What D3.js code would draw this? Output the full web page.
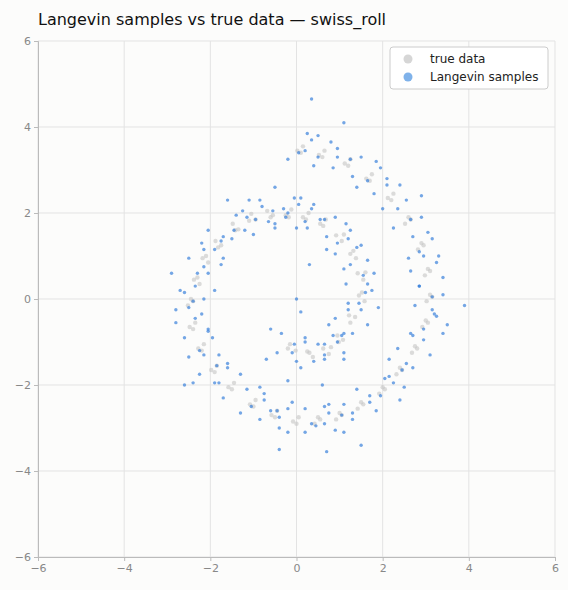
<!DOCTYPE html>
<html><head><meta charset="utf-8">
<script src="https://cdn.jsdelivr.net/npm/d3@7"></script>
<style>body{margin:0;background:#fcfcfb;font-family:"DejaVu Sans",sans-serif}</style>
</head><body><svg id="c" width="568" height="590"></svg>
<script>
const title = "Langevin samples vs true data \u2014 swiss_roll";
const ticks = [-6,-4,-2,0,2,4,6];
const seriesNames = ["true data","Langevin samples"];
const truePts = [[-0.15,-1.05],[-0.02,-1.2],[-0.2,-1.15],[0.25,-1.22],[0.38,-1.35],[0.3,-1.25],[0.62,-1.15],[0.75,-1.28],[0.8,-1.12],[0.95,-0.85],[1.08,-0.95],[0.98,-1.0],[1.25,-0.55],[1.36,-0.42],[1.22,-0.38],[1.45,0.08],[1.58,-0.05],[1.52,0.15],[1.55,0.45],[1.42,0.6],[1.6,0.62],[1.25,1.05],[1.38,0.95],[1.32,1.12],[1.05,1.35],[0.92,1.48],[1.1,1.5],[0.55,1.75],[0.68,1.85],[0.62,1.7],[0.15,1.9],[0.28,2.0],[0.22,1.85],[-0.25,1.95],[-0.12,2.08],[-0.18,1.9],[-0.55,1.95],[-0.68,2.05],[-0.6,1.9],[-0.95,1.85],[-1.05,1.98],[-1.1,1.82],[-1.35,1.62],[-1.48,1.75],[-1.42,1.6],[-1.75,1.25],[-1.88,1.35],[-1.82,1.2],[-2.05,0.85],[-2.18,0.95],[-2.1,1.0],[-2.25,0.35],[-2.38,0.45],[-2.3,0.5],[-2.4,-0.05],[-2.52,-0.15],[-2.45,0.0],[-2.35,-0.55],[-2.48,-0.65],[-2.4,-0.7],[-2.15,-1.05],[-2.28,-1.15],[-2.2,-1.2],[-1.85,-1.55],[-1.98,-1.65],[-1.9,-1.7],[-1.45,-1.95],[-1.58,-2.05],[-1.5,-2.1],[-0.95,-2.35],[-1.08,-2.45],[-1.0,-2.5],[-0.45,-2.6],[-0.58,-2.7],[-0.5,-2.75],[0.05,-2.75],[-0.08,-2.85],[0.0,-2.9],[0.55,-2.8],[0.42,-2.9],[0.5,-2.75],[1.05,-2.7],[0.92,-2.8],[1.0,-2.65],[1.55,-2.45],[1.42,-2.55],[1.5,-2.4],[2.05,-2.1],[1.92,-2.2],[2.0,-2.05],[2.45,-1.65],[2.32,-1.75],[2.4,-1.6],[2.8,-1.15],[2.68,-1.25],[2.75,-1.1],[3.05,-0.55],[2.92,-0.65],[3.0,-0.5],[3.15,0.05],[3.02,-0.05],[3.1,0.1],[3.1,0.65],[2.98,0.55],[3.05,0.7],[2.95,1.25],[2.82,1.15],[2.9,1.3],[2.65,1.85],[2.52,1.75],[2.6,1.9],[2.25,2.45],[2.12,2.35],[2.2,2.3],[1.75,2.9],[1.62,2.8],[1.7,2.75],[1.25,3.25],[1.12,3.15],[1.2,3.1],[0.65,3.45],[0.52,3.35],[0.6,3.3],[0.15,3.55],[0.02,3.45],[0.1,3.4]];
const langPts = [[0.2,-1.0],[-0.35,-0.8],[0.0,-1.45],[-0.45,-1.25],[-0.05,-1.05],[0.1,-1.6],[0.65,-1.4],[0.2,-0.9],[0.5,-1.05],[-0.1,-1.25],[0.85,-0.85],[0.4,-1.45],[1.1,-1.4],[0.65,-1.3],[0.95,-1.0],[1.3,-0.8],[0.75,-0.6],[1.1,-1.25],[0.65,-1.05],[1.05,-0.85],[1.1,-0.8],[1.65,-0.6],[1.2,-0.1],[1.5,-0.25],[0.9,-0.45],[1.65,0.35],[1.2,-0.25],[1.9,-0.2],[1.45,-0.1],[1.75,0.2],[1.8,0.6],[1.25,0.8],[1.6,0.15],[1.15,0.35],[1.55,0.55],[1.1,0.7],[1.65,0.9],[1.2,1.4],[1.5,1.25],[0.9,1.05],[1.15,1.75],[0.7,1.15],[1.4,1.2],[0.95,1.3],[1.25,1.6],[0.9,1.9],[0.35,2.1],[0.7,1.45],[0.25,1.65],[0.65,1.85],[0.0,1.65],[0.55,1.85],[0.1,2.35],[0.4,2.2],[-0.2,2.0],[-0.05,2.35],[-0.5,1.75],[0.2,1.8],[-0.25,1.9],[0.05,2.2],[-0.3,2.1],[-0.85,2.3],[-0.5,1.65],[-0.95,1.85],[-0.55,2.05],[-1.2,1.6],[-0.65,1.8],[-1.1,2.3],[-0.8,2.15],[-1.4,1.95],[-1.25,2.05],[-1.7,1.45],[-1.0,1.5],[-1.45,1.6],[-1.15,1.9],[-1.5,1.4],[-2.05,1.6],[-1.7,0.95],[-2.15,1.15],[-1.75,1.35],[-2.3,0.6],[-1.75,0.8],[-2.2,1.3],[-1.9,1.15],[-2.5,0.95],[-2.15,0.75],[-2.6,0.15],[-1.9,0.2],[-2.35,0.3],[-2.05,0.6],[-2.15,0.0],[-2.7,0.2],[-2.35,-0.45],[-2.8,-0.25],[-2.4,-0.05],[-2.6,-0.9],[-2.05,-0.7],[-2.5,-0.2],[-2.2,-0.35],[-2.8,-0.55],[-2.05,-0.75],[-2.5,-1.35],[-1.8,-1.3],[-2.25,-1.2],[-1.95,-0.9],[-1.6,-1.5],[-2.15,-1.3],[-1.8,-1.95],[-2.25,-1.75],[-1.85,-1.55],[-1.7,-2.3],[-1.15,-2.1],[-1.6,-1.6],[-1.3,-1.75],[-1.9,-1.95],[-0.85,-2.05],[-1.3,-2.65],[-0.6,-2.6],[-1.05,-2.5],[-0.75,-2.2],[-0.2,-2.55],[-0.75,-2.35],[-0.4,-3.0],[-0.85,-2.8],[-0.45,-2.6],[-0.2,-3.1],[0.35,-2.9],[-0.1,-2.4],[0.2,-2.55],[-0.4,-2.75],[0.65,-2.5],[0.2,-3.1],[0.9,-3.05],[0.45,-2.95],[0.75,-2.65],[1.3,-2.65],[0.75,-2.45],[1.1,-3.1],[0.65,-2.9],[1.05,-2.7],[1.3,-2.8],[1.85,-2.6],[1.4,-2.1],[1.7,-2.25],[1.1,-2.45],[2.15,-1.8],[1.7,-2.4],[2.4,-2.35],[1.95,-2.25],[2.25,-1.95],[2.7,-1.6],[2.15,-1.4],[2.5,-2.05],[2.05,-1.85],[2.45,-1.65],[2.55,-1.5],[3.1,-1.3],[2.65,-0.8],[2.95,-0.95],[2.35,-1.15],[3.15,-0.25],[2.7,-0.85],[3.4,-0.8],[2.95,-0.7],[3.25,-0.4],[3.4,0.1],[2.85,0.3],[3.2,-0.35],[2.75,-0.15],[3.15,0.05],[2.85,0.3],[3.4,0.5],[2.95,1.0],[3.25,0.85],[2.65,0.65],[3.05,1.55],[2.6,0.95],[3.3,1.0],[2.85,1.1],[3.15,1.4],[2.9,1.9],[2.35,2.1],[2.7,1.45],[2.25,1.65],[2.65,1.85],[2.0,2.1],[2.55,2.3],[2.1,2.8],[2.4,2.65],[1.8,2.45],[1.85,3.2],[1.4,2.6],[2.1,2.65],[1.65,2.75],[1.95,3.05],[1.5,3.3],[0.95,3.5],[1.3,2.85],[0.85,3.05],[1.25,3.25],[0.4,3.1],[0.95,3.3],[0.5,3.8],[0.8,3.65],[0.2,3.45],[0.25,3.85],[-0.2,3.25],[0.5,3.3],[0.05,3.4],[0.35,3.7],[3.9,-0.15],[0.35,4.65],[1.1,4.1],[-0.4,-3.5],[0.7,-3.55],[-2.4,-1.95],[0.0,0.0],[-0.6,-0.7],[-0.7,-1.4],[0.1,-0.3],[0.3,0.8],[-2.6,-2.0],[-0.2,-1.9],[0.6,-2.0],[1.5,-3.4],[3.5,-0.6],[2.9,2.4],[-0.5,2.6],[-1.6,2.3],[-2.9,0.6]];

const svg = d3.select("#c");
const m = {l:38, r:555, t:41, b:557};
const x = d3.scaleLinear().domain([-6,6]).range([m.l, m.r]);
const y = d3.scaleLinear().domain([-6,6]).range([m.b, m.t]);
const g = svg.append("g");
g.selectAll(".gx").data(ticks).join("line").attr("x1",d=>x(d)).attr("x2",d=>x(d)).attr("y1",m.t).attr("y2",m.b).attr("stroke","#e3e3e3");
g.selectAll(".gy").data(ticks).join("line").attr("y1",d=>y(d)).attr("y2",d=>y(d)).attr("x1",m.l).attr("x2",m.r).attr("stroke","#e3e3e3");
const ax = svg.append("g").attr("transform",`translate(0,${m.b})`).call(d3.axisBottom(x).tickValues(ticks).tickFormat(d=>d<0?"\u2212"+(-d):d).tickSize(4));
const ay = svg.append("g").attr("transform",`translate(${m.l},0)`).call(d3.axisLeft(y).tickValues(ticks).tickFormat(d=>d<0?"\u2212"+(-d):d).tickSize(4));
[ax,ay].forEach(a=>{a.selectAll("path,line").attr("stroke","#bbb");a.selectAll("text").attr("fill","#888").attr("font-size",11).attr("font-family","DejaVu Sans");});
svg.append("g").selectAll("circle").data(truePts).join("circle").attr("cx",d=>x(d[0])).attr("cy",d=>y(d[1])).attr("r",2.2).attr("fill","#c4c4c4").attr("opacity",0.6);
svg.append("g").selectAll("circle").data(langPts).join("circle").attr("cx",d=>x(d[0])).attr("cy",d=>y(d[1])).attr("r",1.7).attr("fill","#2b78d8").attr("opacity",0.65);
svg.append("text").attr("x",38).attr("y",25).attr("font-size",16).attr("fill","#111").text(title);
const lg = svg.append("g").attr("transform","translate(390,47)");
lg.append("rect").attr("width",158).attr("height",42).attr("rx",3).attr("fill","#fff").attr("stroke","#ccc");
const lc = ["#d6d6d6","#7fb2ea"];
seriesNames.forEach((s,i)=>{
  lg.append("circle").attr("cx",18).attr("cy",12+i*18).attr("r",4.5).attr("fill",lc[i]);
  lg.append("text").attr("x",40).attr("y",16+i*18).attr("font-size",12).attr("fill","#222").text(s);
});
</script></body></html>
